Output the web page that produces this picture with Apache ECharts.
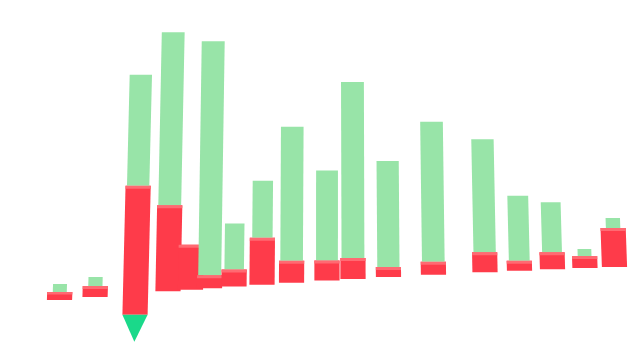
<!DOCTYPE html>
<html>
<head>
<meta charset="utf-8">
<script src="https://cdn.jsdelivr.net/npm/echarts@6/dist/echarts.min.js"></script>
<style>html,body{margin:0;padding:0;background:#fff}#c{width:641px;height:360px}</style>
</head>
<body>
<div id="c"></div>
<script>
// bar positions along the x axis
var xPositions = [3.25, 9.17, 15.92, 21.33, 25.08, 28.25, 32.33, 37.0, 41.92, 47.83, 52.17, 58.08, 65.58, 74.17, 79.92, 85.42, 90.83, 95.75];
// red segment (lower part)
var redLow  = [0, 0, -21, 0, 0, 0, 0, 0, 0, 0, 0, 0, 0, 0, 0, 0, 0, 0];
var redHigh = [8, 11, 108, 86, 45, 13, 17, 47, 22, 20, 21, 10, 13, 20, 10, 17, 12, 39];
// green segment stacked on red
var greenValues = [8, 9, 111, 173, 0, 234, 46, 57, 134, 90, 176, 106, 140, 113, 65, 50, 7, 10];
// downward cone marker (bottom value), null where absent
var coneLow = [null, null, -48, null, null, null, null, null, null, null, null, null, null, null, null, null, null, null];

var data = xPositions.map(function (x, i) {
  return [x, redLow[i], redHigh[i], redHigh[i] + greenValues[i], coneLow[i] == null ? '-' : coneLow[i]];
});

var VPX = 330, VPD = 8000;
var RED = '#fe3b4a', RED_TOP = '#ff6a72', GREEN = '#98e4a8', CONE = '#1ad98a';

function renderItem(params, api) {
  var x = api.value(0), lo = api.value(1), hi = api.value(2), gHi = api.value(3), cone = api.value(4);
  var p0 = api.coord([x, 0]);
  var cx = p0[0];
  var t = (cx - 59.5) / 555;
  var drop = 47 * t - 14 * t * t;
  function pt(dx, v) {
    var c = api.coord([x, v]);
    var h = p0[1] - c[1];
    return [cx + dx + (VPX - cx) * h / VPD, c[1] - drop];
  }
  var hw = api.size([4.2, 0])[0] / 2;
  var children = [];
  // red body
  children.push({
    type: 'polygon',
    shape: { points: [pt(-hw, lo), pt(hw, lo), pt(hw, hi), pt(-hw, hi)] },
    style: { fill: RED }
  });
  // green stacked
  if (gHi > hi) {
    var gh = pt(0, hi)[1] - pt(0, gHi)[1];
    var gw = (12 + 11 * (1 - Math.exp(-gh / 40))) / 2;
    children.push({
      type: 'polygon',
      shape: { points: [pt(-gw, hi), pt(gw, hi), pt(gw, gHi), pt(-gw, gHi)] },
      style: { fill: GREEN }
    });
  }
  // lighter top face of red
  var tp = Math.min(3, (hi - lo) * 0.3);
  children.push({
    type: 'polygon',
    shape: { points: [pt(-hw, hi - tp), pt(hw, hi - tp), pt(hw, hi), pt(-hw, hi)] },
    style: { fill: RED_TOP }
  });
  // cone
  if (!isNaN(cone)) {
    children.push({
      type: 'polygon',
      shape: { points: [pt(-hw, lo), pt(hw, lo), pt(0, cone)] },
      style: { fill: CONE }
    });
  }
  return { type: 'group', children: children };
}

var chart = echarts.init(document.getElementById('c'), null, { renderer: 'canvas' });
chart.setOption({
  backgroundColor: '#ffffff',
  animation: false,
  grid: { left: 40, width: 600, top: 0, height: 360 },
  xAxis: { type: 'value', min: 0, max: 100, show: false },
  yAxis: { type: 'value', min: -60, max: 300, show: false },
  series: [{
    type: 'custom',
    renderItem: renderItem,
    encode: { x: 0, y: [1, 2, 3] },
    data: data,
    clip: false
  }]
});
</script>
</body>
</html>
